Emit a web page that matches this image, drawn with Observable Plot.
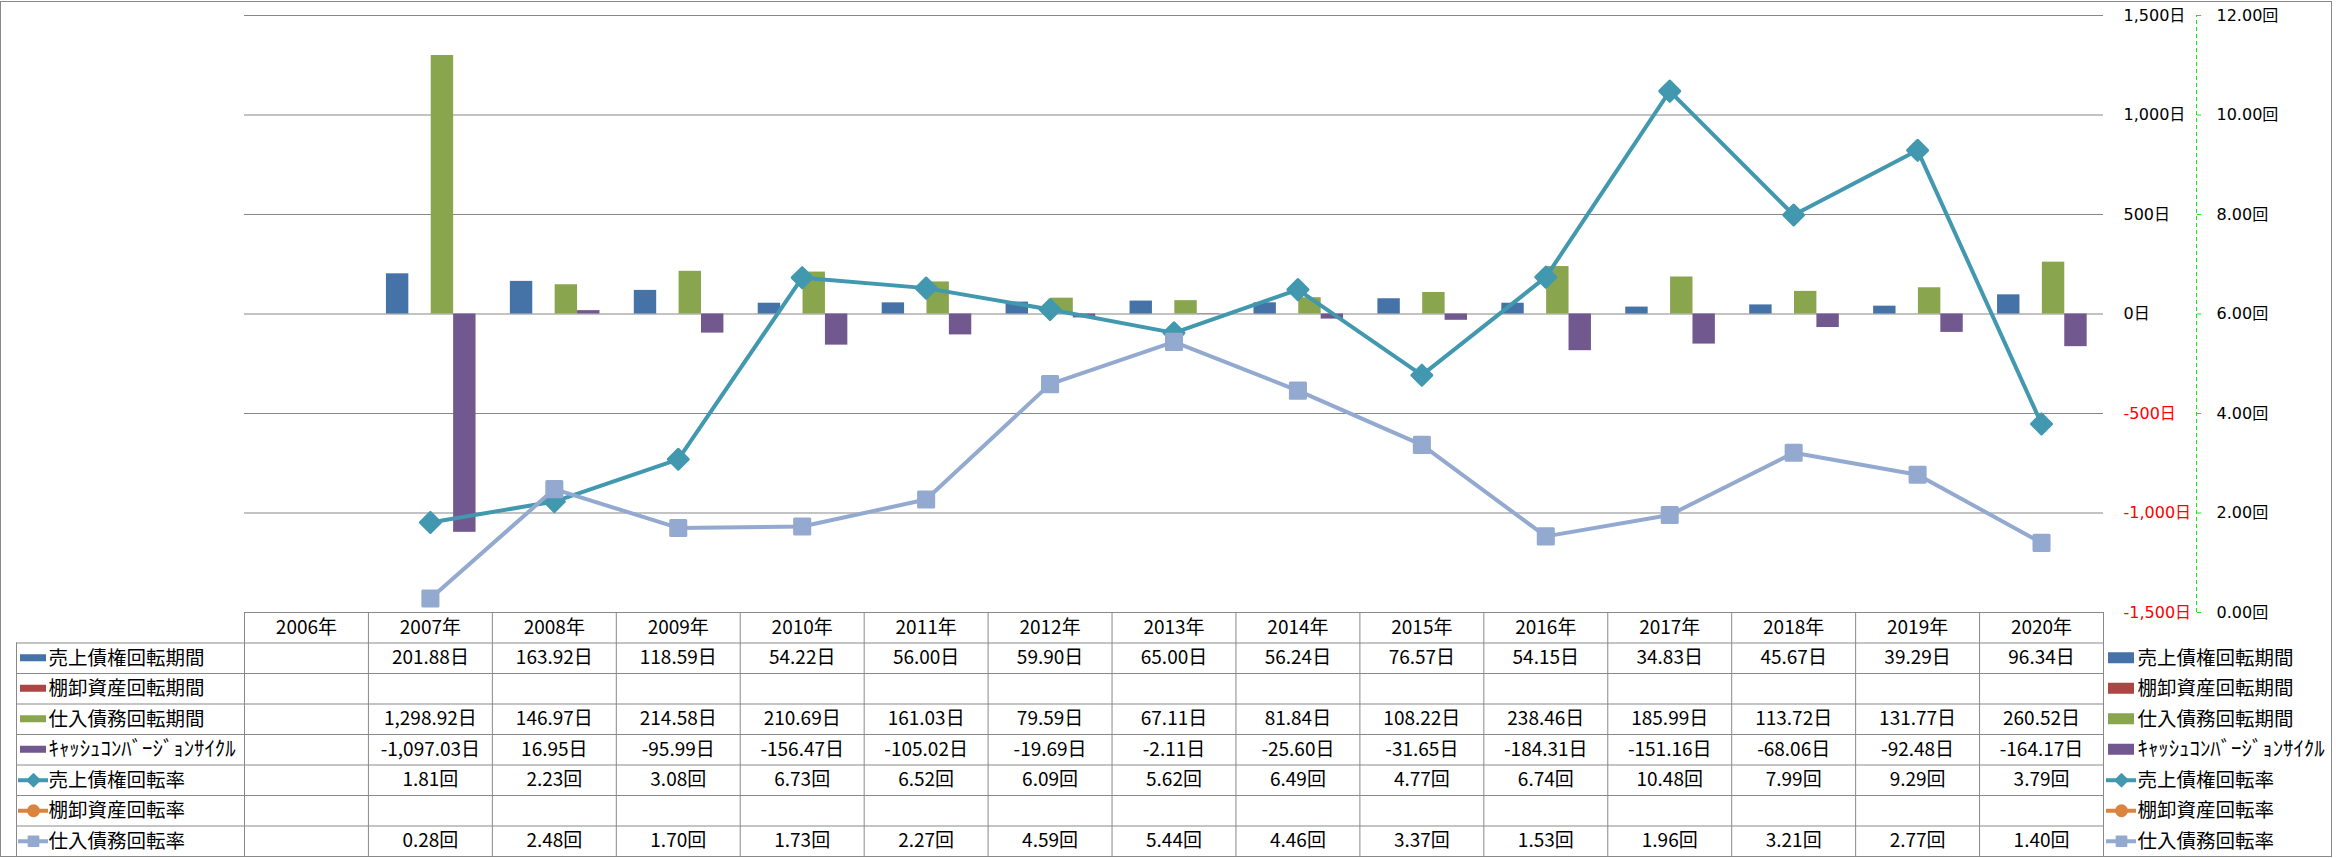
<!DOCTYPE html>
<html><head><meta charset="utf-8">
<script src="https://cdn.jsdelivr.net/npm/d3@7"></script>
<script src="https://cdn.jsdelivr.net/npm/@observablehq/plot@0.6"></script>
<style>
html,body{margin:0;padding:0;background:#fff;}
#wrap{position:relative;width:2336px;height:858px;overflow:hidden;background:#fff;}
#frame{position:absolute;left:0;top:1px;width:2330px;height:854px;border:1px solid #898989;pointer-events:none;}
#chart,#table{position:absolute;left:0;}
#chart{top:0px}
#table{top:600px}
svg{overflow:visible}
</style></head><body>
<div id="wrap"><div id="chart"></div><div id="table"></div><div id="frame"></div></div>
<script>
// ---- data ----
const years = ["2006","2007","2008","2009","2010","2011","2012","2013","2014","2015","2016","2017","2018","2019","2020"];
const seriesNames = ["売上債権回転期間","棚卸資産回転期間","仕入債務回転期間","ｷｬｯｼｭｺﾝﾊﾞｰｼﾞｮﾝｻｲｸﾙ","売上債権回転率","棚卸資産回転率","仕入債務回転率"];
const arDays  = [null, 201.88, 163.92, 118.59, 54.22, 56.00, 59.90, 65.00, 56.24, 76.57, 54.15, 34.83, 45.67, 39.29, 96.34];
const invDays = [null, null, null, null, null, null, null, null, null, null, null, null, null, null, null];
const apDays  = [null, 1298.92, 146.97, 214.58, 210.69, 161.03, 79.59, 67.11, 81.84, 108.22, 238.46, 185.99, 113.72, 131.77, 260.52];
const cccDays = [null, -1097.03, 16.95, -95.99, -156.47, -105.02, -19.69, -2.11, -25.60, -31.65, -184.31, -151.16, -68.06, -92.48, -164.17];
const arTurn  = [null, 1.81, 2.23, 3.08, 6.73, 6.52, 6.09, 5.62, 6.49, 4.77, 6.74, 10.48, 7.99, 9.29, 3.79];
const invTurn = [null, null, null, null, null, null, null, null, null, null, null, null, null, null, null];
const apTurn  = [null, 0.28, 2.48, 1.70, 1.73, 2.27, 4.59, 5.44, 4.46, 3.37, 1.53, 1.96, 3.21, 2.77, 1.40];
const dayTicks  = [-1500, -1000, -500, 0, 500, 1000, 1500];
const turnTicks = [0, 2, 4, 6, 8, 10, 12];
const units = ["日","日","日","日","回","回","回"];

// ---- styles ----
const colors = ["#4572A7","#AA4643","#89A54E","#71588F","#4198AF","#DB843D","#93A9CF"];
const symbols = [null,null,null,null,"diamond2","circle","square"];
const W = 2336, L = 244, R = 2103, TOP = 15, BOT = 612, H1 = 620;
const BW = (R - L) / years.length;
const GROUP_START = 18, SLOT = 22.4;
const GRID = "#878787";
const LINE = "#898989";
const AXFONT = "DejaVu Sans, Noto Sans CJK JP, sans-serif";
const TFONT = "Liberation Sans Narrow, Noto Sans CJK JP, sans-serif";
const JFONT = "Noto Sans CJK JP, sans-serif";

const allSeries = [arDays, invDays, apDays, cccDays, arTurn, invTurn, apTurn];
// secondary axis (回) expressed on the primary (日) scale
const toDays = t => (t - 6) * 250;
const fmt2 = v => v.toLocaleString("en-US", {minimumFractionDigits: 2, maximumFractionDigits: 2});

const barMarks = [0,1,2,3].map(i => {
  const data = years.map((y, j) => ({year: y, v: allSeries[i][j]})).filter(d => d.v != null);
  return Plot.barY(data, {x: "year", y1: 0, y2: "v", fill: colors[i],
    insetLeft: GROUP_START + SLOT * i, insetRight: BW - GROUP_START - SLOT * (i + 1)});
});
const lineMarks = [4,5,6].flatMap(i => {
  const data = years.map((y, j) => ({year: y, v: allSeries[i][j]})).filter(d => d.v != null);
  return [
    Plot.line(data, {x: "year", y: d => toDays(d.v), stroke: colors[i], strokeWidth: 4}),
    Plot.dot(data, {x: "year", y: d => toDays(d.v), symbol: symbols[i], r: i === 6 ? 8.5 : 9,
      fill: colors[i], stroke: colors[i], strokeWidth: 3, strokeLinejoin: "round"})
  ];
});

const chart = Plot.plot({
  width: W, height: H1,
  marginLeft: L, marginRight: W - R, marginTop: TOP, marginBottom: H1 - BOT,
  style: {background: "transparent", fontFamily: AXFONT, fontSize: "16px", color: "#000", overflow: "visible"},
  x: {type: "band", domain: years, padding: 0, round: false, axis: null, label: null},
  y: {domain: [-1500, 1500], axis: null, label: null},
  marks: [
    Plot.ruleY(dayTicks, {stroke: GRID, strokeWidth: 1.2}),
    ...barMarks,
    ...lineMarks,
    Plot.axisY(dayTicks.filter(d => d >= 0), {anchor: "right", tickSize: 0, tickPadding: 20, label: null,
      tickFormat: d => d.toLocaleString("en-US") + "日", fill: "#000", fontSize: 16}),
    Plot.axisY(dayTicks.filter(d => d < 0), {anchor: "right", tickSize: 0, tickPadding: 20, label: null,
      tickFormat: d => d.toLocaleString("en-US") + "日", fill: "#ff0000", fontSize: 16}),
    Plot.ruleX([years[years.length - 1]], {y1: -1500, y2: 1500, dx: 2196 - (R - BW / 2),
      stroke: "#19e619", strokeDasharray: "4,3"}),
    Plot.axisY(turnTicks.map(toDays), {anchor: "right", tickSize: 4, tickPadding: 16, dx: 93, label: null,
      stroke: "#19e619", fill: "#000", fontSize: 16,
      tickFormat: d => (d / 250 + 6).toFixed(2) + "回"})
  ]
});
document.getElementById("chart").appendChild(chart);

// ---- data table ----
const u = px => (px - L) / BW;          // pixel -> column units
const ROWPX = 244 / 8;
const cells = [];
allSeries.forEach((s, r) => s.forEach((v, j) => {
  if (v != null) cells.push({col: j, row: r + 1, text: fmt2(v) + units[r]});
}));
const rows = seriesNames.map((n, i) => ({name: n, i}));
const barRows = rows.slice(0, 4), lineRows = rows.slice(4);

const table = Plot.plot({
  width: W, height: 258,
  marginLeft: L, marginRight: W - R, marginTop: 12, marginBottom: 2,
  style: {background: "transparent", color: "#000", overflow: "visible"},
  x: {domain: [0, years.length], axis: null, label: null},
  y: {domain: [0, 8], reverse: true, axis: null, label: null},
  marks: [
    Plot.ruleY([0], {y: d => d, x1: 0, x2: years.length, stroke: LINE}),
    Plot.ruleY(d3.range(1, 9), {y: d => d, x1: u(16), x2: years.length, stroke: LINE}),
    Plot.ruleX(d3.range(0, years.length + 1), {x: d => d, y1: 0, y2: 8, stroke: LINE}),
    Plot.ruleX([u(16)], {x: d => d, y1: 1, y2: 8, stroke: LINE}),
    Plot.text(years, {x: (d, i) => i + 0.5, y: 0.5, text: d => d + "年",
      fontFamily: TFONT, fontSize: 19, fill: "#000"}),
    Plot.text(cells, {x: d => d.col + 0.5, y: d => d.row + 0.5, text: "text",
      fontFamily: TFONT, fontSize: 19, fill: "#000"}),
    // row labels (left) and legend (right)
    ...[[48, 20, 46, 7, 18, 48, 33], [2137, 2108, 2134, 11, 2106, 2136, 2121]].flatMap(([tx, s1, s2, sh, l1, l2, lc]) => [
      Plot.text(rows.filter(d => d.i !== 3), {x: u(tx), y: d => d.i + 1.5, text: "name", textAnchor: "start",
        fontFamily: JFONT, fontSize: 19.5, fill: "#000"}),
      Plot.text(rows.filter(d => d.i === 3), {x: u(tx), y: d => d.i + 1.5, text: "name", textAnchor: "start",
        fontFamily: JFONT, fontSize: 20.8, fill: "#000"}),
      Plot.rect(barRows, {x1: u(s1), x2: u(s2), y1: d => d.i + 1.5 - sh / 2 / ROWPX, y2: d => d.i + 1.5 + sh / 2 / ROWPX,
        fill: d => colors[d.i]}),
      Plot.ruleY(lineRows, {y: d => d.i + 1.5, x1: u(l1), x2: u(l2), stroke: d => colors[d.i], strokeWidth: 4}),
      Plot.dot(lineRows, {x: u(lc), y: d => d.i + 1.5, symbol: d => symbols[d.i], r: 5.5,
        fill: d => colors[d.i], stroke: d => colors[d.i], strokeWidth: 2, strokeLinejoin: "round"})
    ])
  ]
});
document.getElementById("table").appendChild(table);
</script>
</body></html>
